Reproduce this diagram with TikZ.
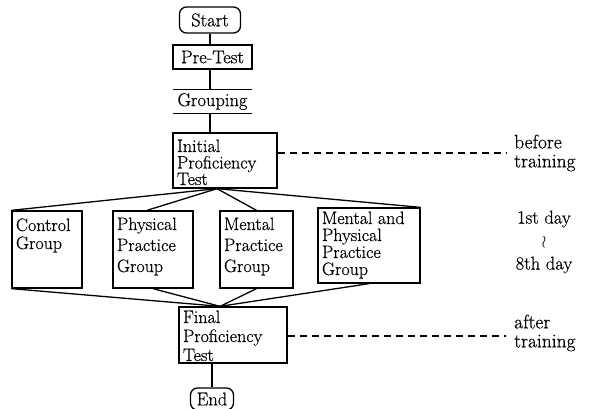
\documentclass[tikz,border=0pt]{standalone}
\usepackage{fontspec}
\setmainfont{Latin Modern Roman}[FakeBold=0.5]
\usetikzlibrary{calc}
\newcommand{\tbox}[5]{\parbox[c][#2pt][t]{#1pt}{\raggedright\leftskip=4pt\fontsize{18}{#5}\selectfont\rule{0pt}{#4pt}#3}}
\tikzset{
  ln/.style={line width=1.3pt},
  boxed/.style={draw, ln, inner sep=0pt},
  term/.style={draw, ln, rounded corners=7pt, inner sep=0pt, font=\fontsize{18.5}{18}\selectfont},
  simple/.style={draw, ln, inner sep=0pt, font=\fontsize{18.5}{18}\selectfont},
  side/.style={anchor=west, align=left, inner sep=0pt, font=\fontsize{19.5}{19}\selectfont},
  dashline/.style={ln, dash pattern=on 7pt off 5pt},
}
\begin{document}
\begin{tikzpicture}[x=1pt,y=-1pt]
\useasboundingbox (0,0) rectangle (595,409);
% terminals and top boxes
\node[term, minimum width=61pt, minimum height=26pt] (start) at (210,20) {Start};
\node[simple, minimum width=79pt, minimum height=24pt] (pretest) at (212.5,57) {Pre-Test};
\node[inner sep=0pt, minimum width=79pt, minimum height=23pt, font=\fontsize{18.5}{18}\selectfont] (grouping) at (212.5,101.5) {Grouping};
\draw[ln] (grouping.north west) -- (grouping.north east);
\draw[ln] (grouping.south west) -- (grouping.south east);
% tests
\node[boxed] (initial) at (225,160.5) {\tbox{104}{55}{Initial\\Proficiency\\Test}{19}{16.5}};
\node[boxed] (final) at (233,335) {\tbox{108}{56}{Final\\Proficiency\\Test}{16}{19}};
% groups
\node[boxed] (ctrl) at (47,249.5) {\tbox{70}{77}{Control\\Group}{20}{18}};
\node[boxed] (phys) at (153,249.5) {\tbox{80}{77}{Physical\\Practice\\Group}{19}{21}};
\node[boxed] (ment) at (256.5,249.5) {\tbox{73}{77}{Mental\\Practice\\Group}{19}{21}};
\node[boxed] (mp) at (369,245.5) {\tbox{102}{75}{Mental and\\Physical\\Practice\\Group}{16}{17}};
% end
\node[term, minimum width=43pt, minimum height=22pt] (end) at (212,399) {End};
% vertical connectors
\draw[ln] (start.south) -- (start.south |- pretest.north);
\draw[ln] (start.south |- pretest.south) -- (start.south |- grouping.north);
\draw[ln] (start.south |- grouping.south) -- (start.south |- initial.north);
\draw[ln] (end.north) -- (end.north |- final.south);
% fans
\coordinate (ft) at ($(initial.south)+(-8,0)$);
\draw[ln] (ft) -- (ctrl.north west);
\draw[ln] (ft) -- ($(phys.north)+(-6,0)$);
\draw[ln] (ft) -- (ment.north);
\draw[ln] (ft) -- (mp.north east);
\coordinate (fb) at ($(final.north)+(-13,0)$);
\draw[ln] (ctrl.south west) -- (fb);
\draw[ln] (phys.south) -- (fb);
\draw[ln] (ment.south) -- (fb);
\draw[ln] (mp.south) -- (fb);
% side annotations
\coordinate (bt) at (506,153);
\draw[dashline] (initial.east |- bt) -- (bt);
\node[side] (before) at (514,153) {before\\training};
\coordinate (at) at (506,336);
\draw[dashline] (final.east |- at) -- (at);
\node[side] (after) at (514,333) {after\\training};
\node[inner sep=0pt, align=center, font=\fontsize{18.5}{20}\selectfont] (days) at (544,242) {1st day\\[3pt]$\wr$\\[3pt]8th day};
\end{tikzpicture}
\end{document}
